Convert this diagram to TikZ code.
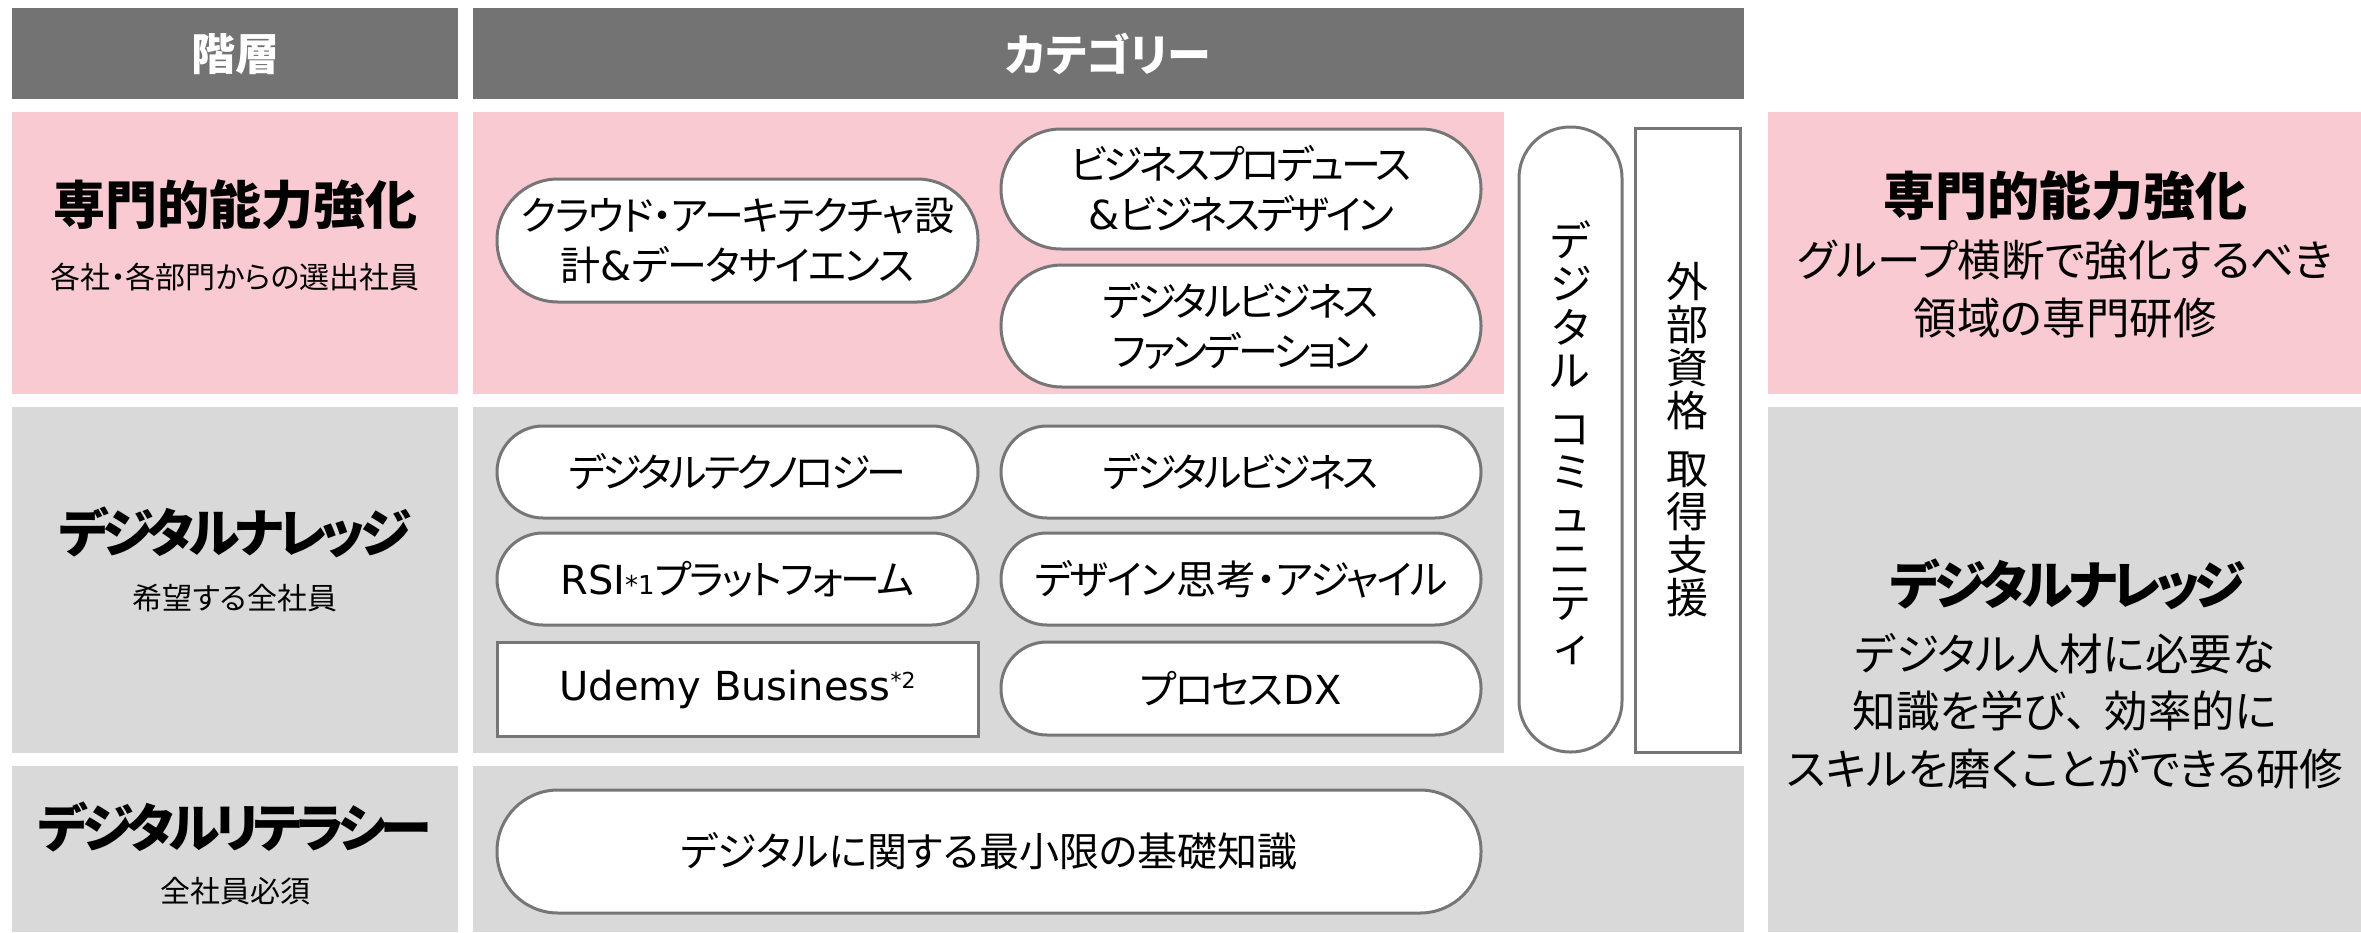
\documentclass[tikz,border=0pt]{standalone}
\usepackage{fontspec}
\setmainfont[RawFeature=+palt]{Noto Sans CJK JP}
\newfontfamily\lat{DejaVu Sans}
\definecolor{hdrc}{HTML}{737373}
\definecolor{pinkc}{HTML}{F9CAD1}
\definecolor{grayc}{HTML}{D9D9D9}
\definecolor{bordc}{HTML}{767676}
\newcommand\pillfont{\fontsize{40}{50}\selectfont}
\newcommand\hdrfont{\fontsize{44}{50}\selectfont\bfseries}
\newcommand\headfont{\fontsize{52}{60}\selectfont\bfseries}
\newcommand\subfont{\fontsize{30}{36}\selectfont}
\newcommand\descfont{\fontsize{43.5}{57.5}\selectfont}
\newcommand\vertfont{\fontsize{42}{43.5}\selectfont}
\newcommand\vertfontb{\fontsize{42}{43}\selectfont}
\newcommand\tight[2]{{\addfontfeature{LetterSpace=#1}#2}}
\begin{document}
\begin{tikzpicture}[x=1pt,y=-1pt,
  pill/.style={draw=bordc, line width=3pt, fill=white, rounded corners=#1, inner sep=0pt, align=center, font=\pillfont},
  boxr/.style={draw=bordc, line width=3pt, fill=white, inner sep=0pt, align=center, font=\pillfont},
  hdrtext/.style={text=white, font=\hdrfont, inner sep=0pt},
  headtext/.style={font=\headfont, inner sep=0pt},
  subtext/.style={font=\subfont, inner sep=0pt},
  desctext/.style={font=\descfont, inner sep=0pt, align=center},
  verttext/.style={font=\vertfont, inner sep=0pt, align=center},
  verttextb/.style={font=\vertfontb, inner sep=0pt, align=center}]
\useasboundingbox (0,0) rectangle (2361,932);
% backgrounds
\fill[hdrc] (12,8) rectangle (458,99);
\fill[hdrc] (473,8) rectangle (1744,99);
\fill[pinkc] (12,112) rectangle (458,394);
\fill[pinkc] (473,112) rectangle (1504,394);
\fill[grayc] (12,407) rectangle (458,753);
\fill[grayc] (473,407) rectangle (1504,753);
\fill[grayc] (12,766) rectangle (458,932);
\fill[grayc] (473,766) rectangle (1744,932);
\fill[pinkc] (1768,112) rectangle (2361,394);
\fill[grayc] (1768,407) rectangle (2361,932);
% headers
\node[hdrtext] (h1) at (235,54) {階層};
\node[hdrtext] (h2) at (1108,54) {カテゴリー};
% left column
\node[headtext] (l1) at (235,205) {専門的能力強化};
\node[subtext] (l1s) at (235,277) {各社・各部門からの選出社員};
\node[headtext] (l2) at (235,532) {\tight{-10}{デジタルナレッジ}};
\node[subtext] (l2s) at (235,598) {希望する全社員};
\node[headtext] (l3) at (235,827) {\tight{-10}{デジタルリテラシー}};
\node[subtext] (l3s) at (235,891) {全社員必須};
% right column
\node[headtext] (r1) at (2065,196) {専門的能力強化};
\node[desctext] (r1d) at (2065,289) {グループ横断で強化するべき\\領域の専門研修};
\node[headtext] (r2) at (2068,584) {\tight{-9}{デジタルナレッジ}};
\node[desctext] (r2d) at (2065,711) {デジタル人材に必要な\\知識を学び、\kern.4em 効率的に\\スキルを磨くことができる研修};
% pills
\node[pill=61pt, minimum width=481pt, minimum height=123pt] (cloud) at (737.5,240.5) {\tight{-4}{クラウド・アーキテクチャ}設\\計{\lat\&}\tight{-4}{データサイエンス}};
\node[pill=60pt, minimum width=480pt, minimum height=120pt] (bizprod) at (1241,189) {\tight{-8}{ビジネスプロデュース}\\{\lat\&}\tight{-8}{ビジネスデザイン}};
\node[pill=61pt, minimum width=480pt, minimum height=122pt] (bizfound) at (1241,326) {\tight{-8}{デジタルビジネス}\\\tight{-8}{ファンデーション}};
\node[pill=46pt, minimum width=481pt, minimum height=92pt] (dtech) at (737.5,472) {\tight{-8}{デジタルテクノロジー}};
\node[pill=46pt, minimum width=480pt, minimum height=92pt] (dbiz) at (1241,472) {\tight{-8}{デジタルビジネス}};
\node[pill=46pt, minimum width=481pt, minimum height=92pt] (rsi) at (737.5,579) {{\lat RSI}{\fontsize{26}{26}\selectfont\lat *1}\tight{-5}{プラットフォーム}};
\node[pill=46pt, minimum width=480pt, minimum height=92pt] (design) at (1241,579) {\tight{-4}{デザイン}思考・\tight{-4}{アジャイル}};
\node[boxr, minimum width=481pt, minimum height=94pt] (udemy) at (737.5,689) {{\lat Udemy Business}\raisebox{12pt}{\fontsize{22}{22}\selectfont\lat *2}};
\node[pill=46pt, minimum width=480pt, minimum height=93pt] (prodx) at (1241,688.5) {\tight{-5}{プロセス}{\lat DX}};
\node[pill=61pt, minimum width=984pt, minimum height=123pt] (base) at (989,851.5) {デジタルに関する最小限の基礎知識};
% vertical items
\node[pill=51pt, minimum width=103pt, minimum height=625pt] (vcomm) at (1570.5,439.5) {};
\node[verttext] (vcommt) at ([yshift=-3pt]vcomm.center) {デ\\ジ\\タ\\ル\\[14pt]コ\\ミ\\ュ\\ニ\\テ\\ィ};
\node[boxr, minimum width=105pt, minimum height=624pt] (vcert) at (1687.5,440) {};
\node[verttextb] (vcertt) at (vcert.center) {外\\部\\資\\格\\[15pt]取\\得\\支\\援};
\end{tikzpicture}
\end{document}
